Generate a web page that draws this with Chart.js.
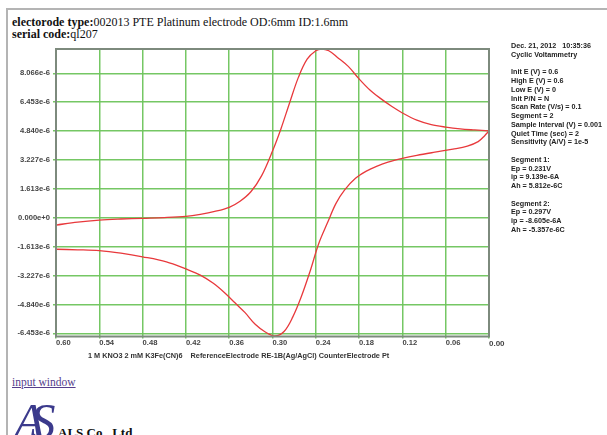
<!DOCTYPE html>
<html>
<head>
<meta charset="utf-8">
<script src="https://cdn.jsdelivr.net/npm/chart.js@4.4.1/dist/chart.umd.min.js"></script>
<style>
  html,body{margin:0;padding:0;background:#fff;width:607px;height:435px;overflow:hidden;}
  #frame{position:absolute;left:6px;top:8px;width:620px;height:460px;border-top:2px solid #b4b4b4;border-left:2px solid #b4b4b4;}
  #head{position:absolute;left:12px;top:16px;font-family:"Liberation Serif",serif;font-size:12px;line-height:12px;color:#111;white-space:nowrap;}
  #head b{font-weight:bold;}
  #wrap{position:absolute;left:0;top:0;width:607px;height:362px;}
  #caption{position:absolute;left:88px;top:351px;font:bold 7.3px "Liberation Sans",Arial,sans-serif;color:#333;white-space:pre;}
  #panel{position:absolute;left:511px;top:42px;font:bold 7.2px "Liberation Sans",Arial,sans-serif;line-height:8.75px;color:#222;white-space:pre;}
  #link{position:absolute;left:12px;top:376px;font-family:"Liberation Serif",serif;font-size:11.5px;color:#553d8c;text-decoration:underline;}
  #logo{position:absolute;left:14px;top:396px;font-family:"Liberation Serif",serif;font-style:italic;font-size:50px;line-height:50px;color:#3b3a8c;letter-spacing:-14px;}
  #co{position:absolute;left:58px;top:425px;font-family:"Liberation Serif",serif;font-weight:bold;font-size:13px;color:#111;}
</style>
</head>
<body>
<div id="frame"></div>
<div id="head"><b>electorode type:</b>002013 PTE Platinum electrode OD:6mm ID:1.6mm<br><b>serial code:</b>ql207</div>
<div id="wrap"><canvas id="cv" width="607" height="362"></canvas></div>
<div id="caption">1 M KNO3 2 mM K3Fe(CN)6    ReferenceElectrode RE-1B(Ag/AgCl) CounterElectrode Pt</div>
<div id="panel">Dec. 21, 2012   10:35:36
Cyclic Voltammetry

Init E (V) = 0.6
High E (V) = 0.6
Low E (V) = 0
Init P/N = N
Scan Rate (V/s) = 0.1
Segment = 2
Sample Interval (V) = 0.001
Quiet Time (sec) = 2
Sensitivity (A/V) = 1e-5

Segment 1:
Ep = 0.231V
ip = 9.139e-6A
Ah = 5.812e-6C

Segment 2:
Ep = 0.297V
ip = -8.605e-6A
Ah = -5.357e-6C</div>
<div id="link">input window</div>
<div id="logo">AS</div>
<div id="co">ALS Co., Ltd.</div>
<script>
// potential (V) and current (uA)
// segment 1: 0.6 V -> 0 V
const fwdV = [0.600, 0.570, 0.540, 0.510, 0.480, 0.450, 0.420, 0.400, 0.380, 0.360, 0.345, 0.330, 0.315, 0.300, 0.288, 0.276, 0.264, 0.252, 0.240, 0.232, 0.222, 0.210, 0.195, 0.180, 0.165, 0.150, 0.135, 0.120, 0.100, 0.080, 0.060, 0.040, 0.020, 0.000];
const fwdI = [-0.41, -0.24, -0.13, -0.07, -0.03, 0.01, 0.08, 0.19, 0.35, 0.58, 0.92, 1.45, 2.35, 3.72, 5.00, 6.45, 7.85, 8.85, 9.32, 9.42, 9.32, 8.95, 8.45, 7.75, 7.13, 6.65, 6.22, 5.85, 5.45, 5.20, 5.06, 4.96, 4.90, 4.85];
// segment 2: 0 V -> 0.6 V
const revV = [0.000, 0.006, 0.015, 0.030, 0.050, 0.075, 0.100, 0.120, 0.140, 0.155, 0.170, 0.185, 0.200, 0.212, 0.224, 0.236, 0.248, 0.260, 0.272, 0.284, 0.297, 0.310, 0.324, 0.338, 0.352, 0.366, 0.382, 0.400, 0.420, 0.447, 0.480, 0.510, 0.540, 0.570, 0.600];
const revI = [4.85, 4.58, 4.25, 4.00, 3.83, 3.66, 3.48, 3.31, 3.10, 2.88, 2.60, 2.20, 1.55, 0.80, -0.30, -1.45, -3.00, -4.40, -5.55, -6.35, -6.60, -6.38, -5.95, -5.30, -4.75, -4.20, -3.66, -3.20, -2.86, -2.46, -2.18, -1.98, -1.84, -1.79, -1.76];

const xTickVals = [0.60, 0.54, 0.48, 0.42, 0.36, 0.30, 0.24, 0.18, 0.12, 0.06, 0.00];
const xTickLabels = ['0.60','0.54','0.48','0.42','0.36','0.30','0.24','0.18','0.12','0.06','0.00'];
const yTickVals = [-6.453, -4.840, -3.227, -1.613, 0, 1.613, 3.227, 4.840, 6.453, 8.066];
const yTickLabels = ['-6.453e-6','-4.840e-6','-3.227e-6','-1.613e-6','0.000e+0','1.613e-6','3.227e-6','4.840e-6','6.453e-6','8.066e-6'];

const pts = (vs, is) => vs.map((v,i)=>({x:v, y:is[i]}));
const RED = '#e8393c', GRID = 'rgba(110,196,92,0.95)';
const tickFont = {family:'"Liberation Sans", Arial, sans-serif', size:7.6, weight:'bold'};

const frame = {
  id:'frame',
  afterDraw(c){
    const a = c.chartArea, g = c.ctx;
    g.save();
    g.lineWidth = 2;
    g.strokeStyle = '#7d8a7d';
    g.strokeRect(a.left, a.top, a.right-a.left, a.bottom-a.top);
    g.restore();
  }
};

const line = ds => ({data:ds, showLine:true, borderColor:RED, borderWidth:1.3, pointRadius:0, tension:0.35, fill:false});

new Chart(document.getElementById('cv'), {
  type:'scatter',
  data:{ datasets:[ line(pts(fwdV, fwdI)), line(pts(revV, revI)) ] },
  options:{
    responsive:false, animation:false, events:[],
    layout:{ padding:{top:49, right:118, bottom:0, left:0} },
    plugins:{ legend:{display:false}, tooltip:{enabled:false} },
    scales:{
      x:{
        type:'linear', reverse:true, min:0, max:0.6,
        afterBuildTicks: s => { s.ticks = xTickVals.map(v=>({value:v})); },
        afterFit: s => { s.height = 362 - 336.5; },
        grid:{ color:GRID, lineWidth:1.5, tickLength:2 },
        border:{ display:false },
        ticks:{ align:'start', padding:0, maxRotation:0, autoSkip:false, color:'#444',
          font: ctx => ctx.index === xTickLabels.length-1 ? {...tickFont, size:8} : tickFont,
          callback:(v,i)=>xTickLabels[i] }
      },
      y:{
        type:'linear', min:-6.63, max:9.42,
        afterBuildTicks: s => { s.ticks = yTickVals.map(v=>({value:v})); },
        afterFit: s => { s.width = 56; },
        grid:{ color:GRID, lineWidth:1.5, tickLength:3 },
        border:{ display:false },
        ticks:{ padding:3, autoSkip:false, color:'#444', font:tickFont,
          callback:(v,i)=>yTickLabels[i] }
      }
    }
  },
  plugins:[frame]
});
</script>
</body>
</html>
